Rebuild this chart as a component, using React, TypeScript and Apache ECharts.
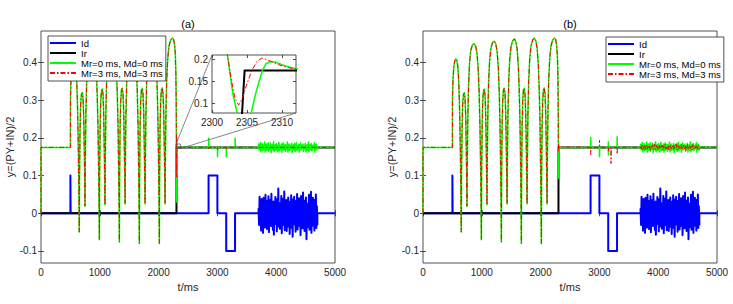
import React, { useEffect, useRef } from 'react';
import * as echarts from 'echarts';

type P = [number, number];

// ---- axis ticks ----
const X_TICKS = [0, 1000, 2000, 3000, 4000, 5000];
const Y_TICKS = [-0.1, 0, 0.1, 0.2, 0.3, 0.4];
const INSET_X_TICKS = [2300, 2305, 2310];
const INSET_Y_TICKS = [0.1, 0.15, 0.2];
const LEGEND_NAMES = ['Id', 'Ir', 'Mr=0 ms, Md=0 ms', 'Mr=3 ms, Md=3 ms'];

// ---- Id (reference input) ----
const idPoints: P[] = [
  [0, 0], [500, 0], [500, 0.1], [504, 0.1], [504, 0],
  [2850, 0], [2850, 0.1], [3000, 0.1], [3000, 0],
  [3150, 0], [3150, -0.1], [3300, -0.1], [3300, 0], [3700, 0],
];
const idEnd: P[] = [[4700, 0], [5000, 0]];
const idNoise = [
  0.012, -0.031, 0.044, -0.018, 0.027, -0.046, 0.038, -0.009, 0.021, -0.052, 0.041, -0.024, 0.006, -0.038,
  0.049, -0.015, 0.033, -0.042, 0.017, -0.027, 0.045, -0.05, 0.029, -0.011, 0.036, -0.034, 0.052, -0.021,
  0.008, -0.044, 0.031, -0.057, 0.024, -0.016, 0.043, -0.029, 0.014, -0.048, 0.038, -0.006, 0.066, -0.035,
  0.019, -0.041, 0.027, -0.023, 0.046, -0.053, 0.011, -0.032, 0.039, -0.019, 0.058, -0.045, 0.022, -0.012,
  0.035, -0.047, 0.016, -0.036, 0.042, -0.026, 0.009, -0.055, 0.031, -0.017, 0.048, -0.039, 0.025, -0.062,
  0.037, -0.008, 0.044, -0.03, 0.013, -0.049, 0.033, -0.021, 0.051, -0.043, 0.018, -0.034, 0.04, -0.014,
  0.028, -0.058, 0.046, -0.025, 0.007, -0.04, 0.055, -0.031, 0.02, -0.047, 0.034, -0.011, 0.042, -0.069,
  0.026, -0.037, 0.015, -0.028, 0.049, -0.044, 0.03, -0.019, 0.057, -0.052, 0.023, -0.033, 0.041, -0.016,
  0.012, -0.046, 0.036, -0.024, 0.05, -0.039, 0.019, -0.03,
];

// ---- Ir ----
const irPoints: P[] = [[0, 0], [2304.0, 0], [2304.66, 0.175], [5000, 0.175]];

// ---- common response y=(PY+IN)/2 before the switch ----
const archPoints: P[] = [
  [0, 0], [0, 0.175], [500, 0.175],
  [501, 0.3], [510, 0.355], [524, 0.39], [542, 0.405], [560, 0.41], [576, 0.406], [592, 0.39], [608, 0.35],
  [622, 0.28], [634, 0.18], [644, 0.06], [651, -0.05],
  [655, 0.09], [663, 0.21], [673, 0.285], [687, 0.315], [702, 0.32], [715, 0.305], [727, 0.255], [737, 0.16],
  [744, 0.08], [748, 0.019],
  [753, 0.12], [762, 0.25], [775, 0.34], [792, 0.4], [812, 0.432], [840, 0.447], [870, 0.45], [896, 0.444],
  [918, 0.425], [938, 0.385], [955, 0.32], [969, 0.23], [980, 0.12], [988, 0.02], [993, -0.07],
  [997, 0.1], [1005, 0.22], [1015, 0.295], [1028, 0.325], [1042, 0.33], [1055, 0.315], [1066, 0.265],
  [1076, 0.17], [1083, 0.09], [1088, 0.022],
  [1093, 0.125], [1102, 0.255], [1115, 0.345], [1133, 0.405], [1154, 0.438], [1183, 0.453], [1212, 0.457],
  [1238, 0.45], [1260, 0.43], [1280, 0.39], [1296, 0.325], [1310, 0.235], [1320, 0.125], [1328, 0.02], [1333, -0.076],
  [1337, 0.1], [1345, 0.225], [1355, 0.297], [1368, 0.327], [1382, 0.332], [1395, 0.317], [1407, 0.267],
  [1417, 0.172], [1425, 0.09], [1430, 0.025],
  [1435, 0.128], [1444, 0.258], [1457, 0.348], [1475, 0.408], [1496, 0.442], [1525, 0.458], [1553, 0.463],
  [1579, 0.456], [1601, 0.436], [1620, 0.395], [1636, 0.33], [1650, 0.238], [1660, 0.127], [1668, 0.02], [1673, -0.08],
  [1677, 0.1], [1685, 0.225], [1695, 0.297], [1708, 0.327], [1722, 0.332], [1735, 0.317], [1747, 0.267],
  [1757, 0.172], [1765, 0.09], [1770, 0.025],
  [1775, 0.128], [1784, 0.258], [1797, 0.35], [1815, 0.41], [1836, 0.444], [1865, 0.46], [1893, 0.465],
  [1919, 0.458], [1941, 0.438], [1960, 0.397], [1976, 0.332], [1990, 0.24], [2000, 0.128], [2008, 0.02], [2013, -0.08],
  [2017, 0.1], [2025, 0.226], [2035, 0.298], [2048, 0.328], [2062, 0.333], [2075, 0.318], [2087, 0.268],
  [2097, 0.173], [2105, 0.09], [2110, 0.025],
  [2115, 0.128], [2124, 0.258], [2137, 0.35], [2155, 0.41], [2176, 0.444], [2205, 0.46], [2235, 0.465],
  [2255, 0.462], [2272, 0.448], [2285, 0.42], [2294, 0.37], [2299, 0.3], [2301, 0.25], [2302.2, 0.21],
];

// ---- transitions after the switch ----
const tailGreenA: P[] = [
  [2303, 0.12], [2303.6, 0.078], [2304, 0.05], [2304.6, 0.03], [2305.1, 0.045], [2305.6, 0.078], [2306.2, 0.12],
  [2306.7, 0.148], [2307.2, 0.175], [2307.7, 0.19], [2308.3, 0.195], [2309, 0.194], [2310, 0.188], [2311, 0.183],
  [2312, 0.179], [2314, 0.176], [2320, 0.175],
];
const tailRedA: P[] = [
  [2302.8, 0.15], [2303.3, 0.11], [2303.8, 0.096], [2304.3, 0.11], [2305, 0.145], [2305.7, 0.175], [2306.4, 0.195],
  [2307.1, 0.203], [2307.8, 0.2], [2308.6, 0.194], [2309.5, 0.188], [2310.5, 0.183], [2311.5, 0.179], [2313, 0.177],
  [2320, 0.175],
];
const tailGreenB: P[] = [
  [2303, 0.14], [2303.5, 0.105], [2304, 0.093], [2304.5, 0.1], [2305.3, 0.135], [2306.2, 0.165], [2307.2, 0.182],
  [2308.5, 0.184], [2310, 0.18], [2312, 0.177], [2320, 0.175],
];
const tailRedB: P[] = [
  [2302.7, 0.18], [2303.2, 0.165], [2303.8, 0.168], [2304.8, 0.176], [2306, 0.18], [2308, 0.178], [2311, 0.176],
  [2320, 0.175],
];

// ---- disturbances during the Id pulses ----
const spikesGreenA: P[] = [
  [2850, 0.175], [2852, 0.2], [2856, 0.175], [3000, 0.175], [3002, 0.15], [3006, 0.175],
  [3150, 0.175], [3152, 0.15], [3156, 0.175], [3300, 0.175], [3302, 0.2], [3306, 0.175], [3700, 0.175],
];
const spikesRedA: P[] = [
  [2850, 0.175], [2852, 0.172], [2856, 0.175], [3000, 0.175], [3002, 0.168], [3006, 0.175],
  [3150, 0.175], [3152, 0.169], [3156, 0.175], [3300, 0.175], [3302, 0.178], [3306, 0.175], [5000, 0.175],
];
const spikesGreenB: P[] = [
  [2850, 0.175], [2852, 0.201], [2856, 0.175], [3000, 0.175], [3002, 0.15], [3006, 0.175],
  [3150, 0.175], [3152, 0.19], [3154, 0.155], [3158, 0.175], [3300, 0.175], [3302, 0.203], [3306, 0.175], [3700, 0.175],
];
const spikesRedB: P[] = [
  [2850, 0.175], [2852, 0.156], [2856, 0.175], [3000, 0.175], [3002, 0.194], [3006, 0.175],
  [3150, 0.175], [3152, 0.165], [3156, 0.175], [3195, 0.175], [3198, 0.132], [3203, 0.175],
  [3300, 0.175], [3302, 0.157], [3306, 0.175], [3700, 0.175],
];
const respEnd: P[] = [[4705, 0.175], [5000, 0.175]];

// ---- noise during 3700..4700 ms ----
const NOISE_START = 3700;
const NOISE_END = 4700;
const greenNoise = [
  0.183, 0.168, 0.179, 0.188, 0.163, 0.176, 0.185, 0.166, 0.181, 0.171, 0.189, 0.162, 0.178, 0.184, 0.167,
  0.174, 0.187, 0.165, 0.18, 0.17, 0.186, 0.161, 0.177, 0.183, 0.169, 0.19, 0.164, 0.175, 0.182, 0.167,
  0.185, 0.172, 0.163, 0.18, 0.188, 0.166, 0.178, 0.171, 0.184, 0.162, 0.179, 0.187, 0.168, 0.174, 0.183,
  0.165, 0.181, 0.17, 0.189, 0.163, 0.176, 0.184, 0.167, 0.18, 0.172, 0.186, 0.161, 0.178, 0.182, 0.169,
  0.185, 0.164, 0.175, 0.188, 0.166, 0.179, 0.171, 0.183, 0.162, 0.177, 0.187, 0.168, 0.181, 0.173, 0.184,
  0.165, 0.18, 0.17, 0.186, 0.163, 0.176, 0.182, 0.167, 0.189, 0.164, 0.178, 0.183, 0.169, 0.185, 0.166,
  0.174, 0.181, 0.171, 0.187, 0.162, 0.179, 0.184, 0.168, 0.176,
];
const redNoiseB = [
  0.179, 0.171, 0.182, 0.169, 0.177, 0.181, 0.168, 0.176, 0.183, 0.17, 0.178, 0.172, 0.181, 0.167, 0.179,
  0.174, 0.182, 0.17, 0.177, 0.183, 0.169, 0.175, 0.18, 0.168, 0.178, 0.173, 0.182, 0.171, 0.176, 0.181,
  0.167, 0.179, 0.174, 0.183, 0.17, 0.177, 0.172, 0.18, 0.168, 0.178, 0.182, 0.171, 0.175, 0.179, 0.169,
  0.181, 0.173, 0.177, 0.183, 0.168, 0.176, 0.18, 0.17, 0.178, 0.172, 0.182, 0.169, 0.175, 0.181, 0.171,
  0.179, 0.167, 0.177, 0.183, 0.17, 0.174, 0.18, 0.172, 0.178, 0.168, 0.182, 0.175, 0.171, 0.179, 0.173,
  0.181, 0.169, 0.177, 0.18, 0.17,
];

// ---- zoom annotation region in panel (a) ----
const ZOOM_BOX = { t0: 2296, t1: 2372, y0: 0.172, y1: 0.184 };

function noisePts(vals: number[]): P[] {
  const step = (NOISE_END - NOISE_START) / (vals.length - 1);
  return vals.map((v, i) => [NOISE_START + i * step, v] as P);
}

const idData: P[] = [...idPoints, ...noisePts(idNoise), ...idEnd];
const greenA: P[] = [...archPoints, ...tailGreenA, ...spikesGreenA, ...noisePts(greenNoise), ...respEnd];
const redA: P[] = [...archPoints, ...tailRedA, ...spikesRedA];
const greenB: P[] = [...archPoints, ...tailGreenB, ...spikesGreenB, ...noisePts(greenNoise), ...respEnd];
const redB: P[] = [...archPoints, ...tailRedB, ...spikesRedB, ...noisePts(redNoiseB), ...respEnd];

// ---- styling ----
const AX = '#262626';
const FONT = '"Liberation Sans", Arial, sans-serif';
const BLUE = '#0000ff';
const GREEN = '#00ff00';
const RED = '#ff0000';

const GRID_A = { left: 41, top: 31, width: 294, height: 232 };
const GRID_B = { left: 423, top: 31, width: 294, height: 232 };
const GRID_IN = { left: 212, top: 55, width: 84, height: 58 };

const fmt = (v: number) => String(v);

function xAxes(gridIndex: number, min: number, max: number, ticks: number[], withName: boolean, fontSize: number) {
  const bottom: any = {
    type: 'value', gridIndex, min, max, position: 'bottom',
    axisLine: { show: false },
    splitLine: { show: false },
    axisTick: { show: true, inside: true, length: 3, customValues: ticks, lineStyle: { color: AX, width: 0.8 } },
    axisLabel: { show: true, customValues: ticks, formatter: fmt, color: AX, fontSize, fontFamily: FONT, margin: 4 },
  };
  if (withName) {
    Object.assign(bottom, {
      name: 't/ms', nameLocation: 'middle', nameGap: 17,
      nameTextStyle: { color: AX, fontSize: 11, fontFamily: FONT },
    });
  }
  const top: any = {
    type: 'value', gridIndex, min, max, position: 'top',
    axisLine: { show: false }, splitLine: { show: false },
    axisTick: { show: true, inside: true, length: 3, customValues: ticks, lineStyle: { color: AX, width: 0.8 } },
    axisLabel: { show: false },
  };
  return [bottom, top];
}

function yAxes(gridIndex: number, min: number, max: number, ticks: number[], withName: boolean, fontSize: number) {
  const left: any = {
    type: 'value', gridIndex, min, max, position: 'left',
    axisLine: { show: false }, splitLine: { show: false },
    axisTick: { show: true, inside: true, length: 3, customValues: ticks, lineStyle: { color: AX, width: 0.8 } },
    axisLabel: { show: true, customValues: ticks, formatter: fmt, color: AX, fontSize, fontFamily: FONT, margin: 4 },
  };
  if (withName) {
    Object.assign(left, {
      name: 'y=(PY+IN)/2', nameLocation: 'middle', nameGap: 20,
      nameTextStyle: { color: AX, fontSize: 11, fontFamily: FONT },
    });
  }
  const right: any = {
    type: 'value', gridIndex, min, max, position: 'right',
    axisLine: { show: false }, splitLine: { show: false },
    axisTick: { show: true, inside: true, length: 3, customValues: ticks, lineStyle: { color: AX, width: 0.8 } },
    axisLabel: { show: false },
  };
  return [left, right];
}

function lineSeries(name: string, data: P[], axisIndex: number, color: string, width: number, type: any) {
  return {
    type: 'line', name, data, xAxisIndex: axisIndex, yAxisIndex: axisIndex,
    symbol: 'none', showSymbol: false, silent: true, animation: false,
    lineStyle: { color, width, type, join: 'round' },
    itemStyle: { color },
    emphasis: { disabled: true },
  };
}

const DASHDOT = [5, 2, 1.5, 2];

function legend(left: number, top: number) {
  return {
    show: true, data: LEGEND_NAMES, orient: 'vertical', left, top,
    itemWidth: 26, itemHeight: 10, itemGap: 0,
    padding: [2, 3, 3, 1],
    backgroundColor: '#ffffff', borderColor: AX, borderWidth: 0.8,
    selectedMode: false,
    itemStyle: { color: 'rgba(0,0,0,0)', borderColor: 'rgba(0,0,0,0)', borderWidth: 0, opacity: 0 },
    textStyle: { color: '#000', fontSize: 9.5, fontFamily: FONT, lineHeight: 10 },
  };
}

function buildOption() {
  const grids = [GRID_A, GRID_B].map((g) => ({
    ...g, show: true, borderColor: AX, borderWidth: 0.8, backgroundColor: 'transparent', containLabel: false,
    outerBoundsMode: 'none',
  }));
  grids.push({ ...GRID_IN, show: true, borderColor: AX, borderWidth: 0.8, backgroundColor: '#ffffff', containLabel: false, outerBoundsMode: 'none' } as any);

  return {
    animation: false,
    backgroundColor: '#ffffff',
    textStyle: { fontFamily: FONT },
    grid: grids,
    xAxis: [
      ...xAxes(0, 0, 5000, X_TICKS, true, 10),
      ...xAxes(1, 0, 5000, X_TICKS, true, 10),
      ...xAxes(2, 2300, 2312, INSET_X_TICKS, false, 10),
    ],
    yAxis: [
      ...yAxes(0, -0.132, 0.484, Y_TICKS, true, 10),
      ...yAxes(1, -0.132, 0.484, Y_TICKS, true, 10),
      ...yAxes(2, 0.078, 0.21, INSET_Y_TICKS, false, 10),
    ],
    legend: [legend(48, 36), legend(606, 37)],
    series: [
      lineSeries('Id', idData, 0, BLUE, 2, 'solid'),
      lineSeries('Ir', irPoints, 0, '#000000', 2, 'solid'),
      lineSeries('Mr=0 ms, Md=0 ms', greenA, 0, GREEN, 1.5, 'solid'),
      lineSeries('Mr=3 ms, Md=3 ms', redA, 0, RED, 1, DASHDOT),
      lineSeries('Id', idData, 2, BLUE, 2, 'solid'),
      lineSeries('Ir', irPoints, 2, '#000000', 2, 'solid'),
      lineSeries('Mr=0 ms, Md=0 ms', greenB, 2, GREEN, 1.5, 'solid'),
      lineSeries('Mr=3 ms, Md=3 ms', redB, 2, RED, 1, DASHDOT),
      lineSeries('inset Ir', irPoints, 4, '#000000', 2, 'solid'),
      lineSeries('inset Mr0', greenA, 4, GREEN, 1.5, 'solid'),
      lineSeries('inset Mr3', redA, 4, RED, 1, DASHDOT),
    ],
  };
}

export default function App() {
  const ref = useRef<HTMLDivElement>(null);
  useEffect(() => {
    if (!ref.current) return;
    const chart = echarts.init(ref.current, null, { renderer: 'svg' });
    chart.setOption(buildOption() as any);
    const a = chart.convertToPixel({ xAxisIndex: 0, yAxisIndex: 0 } as any, [ZOOM_BOX.t0, ZOOM_BOX.y1]) as number[];
    const b = chart.convertToPixel({ xAxisIndex: 0, yAxisIndex: 0 } as any, [ZOOM_BOX.t1, ZOOM_BOX.y0]) as number[];
    const inTL = chart.convertToPixel({ xAxisIndex: 4, yAxisIndex: 4 } as any, [2300, 0.21]) as number[];
    const inBR = chart.convertToPixel({ xAxisIndex: 4, yAxisIndex: 4 } as any, [2312, 0.078]) as number[];
    const lineStyle = { stroke: '#555555', lineWidth: 0.7 };
    chart.setOption({
      graphic: [
        { type: 'text', x: GRID_A.left + GRID_A.width / 2, y: 24, style: { text: '(a)', fill: '#000', font: `11px ${FONT}`, align: 'center', verticalAlign: 'middle' } },
        { type: 'text', x: GRID_B.left + GRID_B.width / 2, y: 24, style: { text: '(b)', fill: '#000', font: `11px ${FONT}`, align: 'center', verticalAlign: 'middle' } },
        { type: 'rect', shape: { x: a[0], y: a[1], width: b[0] - a[0], height: b[1] - a[1] }, style: { fill: 'none', ...lineStyle }, z: 10 },
        { type: 'line', shape: { x1: a[0], y1: a[1], x2: inTL[0], y2: inTL[1] }, style: lineStyle, z: 10 },
        { type: 'line', shape: { x1: b[0], y1: b[1], x2: inBR[0], y2: inBR[1] }, style: lineStyle, z: 10 },
      ],
    } as any);
    return () => chart.dispose();
  }, []);
  return <div ref={ref} style={{ position: 'fixed', left: 0, top: 0, width: 733, height: 304 }} />;
}
